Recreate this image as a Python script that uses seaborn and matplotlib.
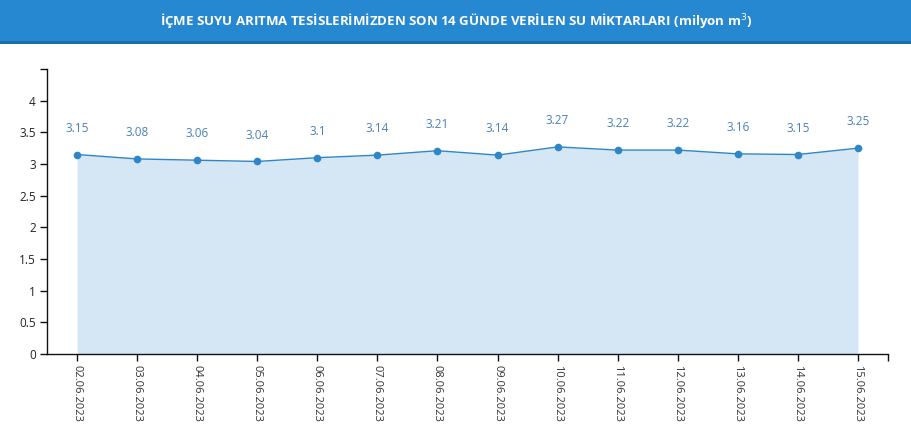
import matplotlib
matplotlib.use("Agg")
import matplotlib.pyplot as plt
import seaborn as sns
import pandas as pd
from matplotlib.patches import Rectangle

# data
dates = ["02.06.2023", "03.06.2023", "04.06.2023", "05.06.2023", "06.06.2023",
         "07.06.2023", "08.06.2023", "09.06.2023", "10.06.2023", "11.06.2023",
         "12.06.2023", "13.06.2023", "14.06.2023", "15.06.2023"]
values = [3.15, 3.08, 3.06, 3.04, 3.1, 3.14, 3.21, 3.14, 3.27, 3.22, 3.22, 3.16, 3.15, 3.25]
labels = ["3.15", "3.08", "3.06", "3.04", "3.1", "3.14", "3.21", "3.14", "3.27",
          "3.22", "3.22", "3.16", "3.15", "3.25"]
yticks = [0, 0.5, 1, 1.5, 2, 2.5, 3, 3.5, 4]
ytick_labels = ["0", "0.5", "1", "1.5", "2", "2.5", "3", "3.5", "4"]

df = pd.DataFrame({"pos": range(len(dates)), "date": dates, "value": values})

sns.set_style("white")
plt.rcParams["font.family"] = ["Open Sans", "DejaVu Sans"]

W, H = 912, 442
fig = plt.figure(figsize=(W / 100, H / 100), dpi=100)
ax = fig.add_axes([47 / W, (H - 354) / H, (888 - 47) / W, (354 - 69) / H])

# title bar
fig.patches.append(Rectangle((0, (H - 41) / H), 1, 41 / H, transform=fig.transFigure,
                             facecolor="#2688d0", edgecolor="none", zorder=0))
fig.patches.append(Rectangle((0, (H - 44) / H), 1, 3 / H, transform=fig.transFigure,
                             facecolor="#1b6fa8", edgecolor="none", zorder=0))
fig.text(0.5, (H - 21) / H, "İÇME SUYU ARITMA TESİSLERİMİZDEN SON 14 GÜNDE VERİLEN SU MİKTARLARI (milyon m$^3$)",
         ha="center", va="center", color="white", fontsize=9.5, fontweight="bold")

ax.fill_between(df["pos"], df["value"], 0, color="#d5e6f4", linewidth=0)
sns.lineplot(data=df, x="pos", y="value", ax=ax, color="#2f86c6", linewidth=1,
             marker="o", markersize=5.5, markeredgewidth=0)

for x, y, t in zip(df["pos"], df["value"], labels):
    ax.annotate(t, (x, y), xytext=(0, 19), textcoords="offset points",
                ha="center", va="center", fontsize=8.5, color="#4a80b8")

ax.set_xlim(-0.5, 13.5)
ax.set_ylim(0, 4.5)
ax.set_xticks(list(df["pos"]) + [13.5])
ax.set_xticklabels(dates + [""], rotation=-90, fontsize=8, color="#333333")
ax.set_yticks(yticks + [4.5])
ax.set_yticklabels(ytick_labels + [""], fontsize=8.5, color="#222222")
ax.set_xlabel("")
ax.set_ylabel("")

for s in ["top", "right"]:
    ax.spines[s].set_visible(False)
for s in ["left", "bottom"]:
    ax.spines[s].set_color("#111111")
    ax.spines[s].set_linewidth(1)
ax.tick_params(axis="both", length=5, width=1, color="#111111", pad=3, direction="out",
               left=True, bottom=True)

fig.savefig("out.png", dpi=100)
